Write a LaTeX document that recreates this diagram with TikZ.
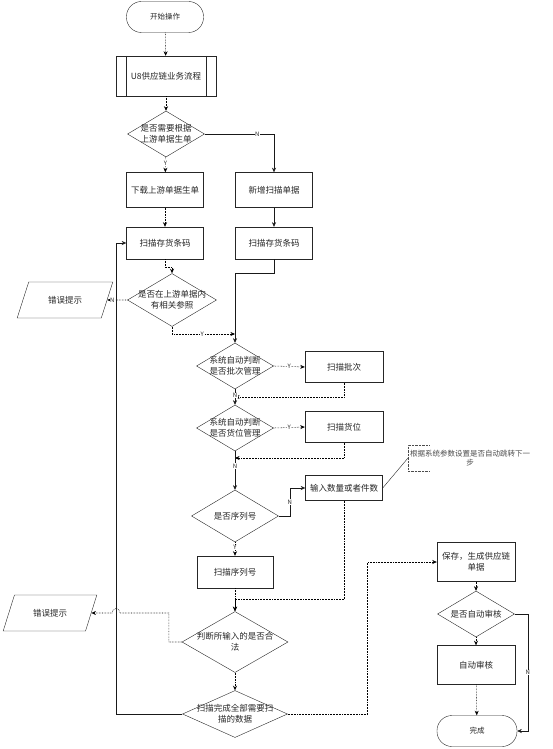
\documentclass[tikz,border=0pt]{standalone}
\usepackage{fontspec}
\setmainfont{Noto Sans CJK SC}
\usetikzlibrary{positioning,arrows.meta,calc,shapes.geometric}

\begin{document}
\begin{tikzpicture}[
  x=1pt, y=-1pt,
  font=\fontsize{8.5}{11}\selectfont,
  >={Stealth[length=1.6mm,width=1.4mm]},
  base/.style={draw=black!85, thin, align=center, inner sep=2pt, text=black!85},
  term/.style={base, rounded corners=15pt, minimum width=77pt, minimum height=31pt,
               font=\fontsize{7.5}{9}\selectfont},
  box/.style={base, minimum width=77pt, minimum height=33pt},
  dec/.style={base, diamond, minimum width=77pt, minimum height=46pt, inner sep=0pt},
  dtxt/.style={align=center, text=black!85, inner sep=0pt},
  io/.style={base, trapezium, trapezium left angle=63, trapezium right angle=117,
             trapezium stretches=true, minimum width=96pt, minimum height=36pt},
  note/.style={align=center, text=black!70, inner sep=2pt, minimum height=25pt,
               font=\fontsize{7.5}{9}\selectfont},
  arr/.style={->, thin, black!90},
  arrd/.style={arr, black, line width=0.55pt, densely dotted},
  lbl/.style={font=\fontsize{6}{6}\selectfont, inner sep=0.5pt, fill=white, text=black!85},
]
\useasboundingbox (0,0) rectangle (553,749);

%% ---------- top: start and first decision ----------
\node[term] (start) at (165,17) {开始操作};
\node[box, minimum width=100pt, minimum height=40pt] (u8) at (166,76) {U8供应链业务流程};
\draw[black!85] ([xshift=10pt]u8.north west) -- ([xshift=10pt]u8.south west);
\draw[black!85] ([xshift=-10pt]u8.north east) -- ([xshift=-10pt]u8.south east);

\node[dec, label={[dtxt]center:是否需要根据\\上游单据生单}] (d1) at (166,134) {};

\node[box, minimum height=35pt] (down) at (165,190) {下载上游单据生单};
\node[box, minimum height=35pt] (add) at (274,190) {新增扫描单据};

\node[box, minimum height=32pt] (scan1) at (165,243) {扫描存货条码};
\node[box, minimum height=32pt] (scan2) at (274,243) {扫描存货条码};

\draw[arrd] (start) -- (u8);
\draw[arrd] (u8) -- (d1);
\draw[arr] (d1.east) -| node[lbl, pos=0.38]{N} (add.north);
\draw[arrd] (d1) -- node[lbl, pos=0.4]{Y} (down);
\draw[arrd] (down) -- (scan1);
\draw[arr] (add) -- (scan2);

%% ---------- reference check ----------
\node[dec, minimum width=89pt, minimum height=53pt,
      label={[dtxt]center:是否在上游单据内\\有相关参照}] (d2) at (172,300) {};
\node[io] (err1) at (65,300) {错误提示};
\coordinate (j1) at (235,334);

\draw[arrd] (scan1.south) -- ++(0,8) -| (d2.north);
\draw[arrd] (d2.west) -- node[lbl, pos=0.75]{N} (err1.east);
\draw[arrd] (d2.south) |- node[lbl, pos=0.74]{Y} (j1);

%% ---------- batch and location ----------
\node[dec, label={[dtxt]center:系统自动判断\\是否批次管理}] (d3) at (235,366) {};
\node[box, minimum width=78pt, minimum height=31pt] (batch) at (344,367) {扫描批次};
\coordinate (j2) at (235,397);

\node[dec, label={[dtxt]center:系统自动判断\\是否货位管理}] (d4) at (235,428) {};
\node[box, minimum width=78pt, minimum height=31pt] (loc) at (344,427) {扫描货位};
\coordinate (j3) at (235,458);

\draw[arr] (scan2.south) -- ++(0,14) -| (d3.north);
\draw[arrd] (d3.east) -- node[lbl]{Y} (batch.west);
\draw[arrd] (batch.south) |- (j2);
\draw[arr] (d3) -- node[lbl, pos=0.4]{N} (d4);
\draw[arrd] (d4.east) -- node[lbl]{Y} (loc.west);
\draw[arrd] (loc.south) |- (j3);

%% ---------- serial number / quantity ----------
\node[dec, minimum width=87pt, minimum height=52pt,
      label={[dtxt]center:是否序列号}] (d5) at (235,516) {};
\node[box, minimum height=25pt] (qty) at (344,488) {输入数量或者件数};
\node[box, minimum width=76pt, minimum height=32pt] (serial) at (235,572) {扫描序列号};

\node[note, anchor=west] (memo) at (408,458) {根据系统参数设置是否自动跳转下一\\步};
\draw[black!70, densely dotted] ($(memo.north west)+(21,0)$) -| (memo.south west) -- ++(21,0);
\draw[black!85] (qty.east) -- (memo.west);

\draw[arr] (d4) -- node[lbl, pos=0.38]{N} (d5);
\draw[arr] (d5.east) -- ++(11,0) |- node[lbl, pos=0.25]{N} (qty.west);
\draw[arrd] (d5) -- node[lbl, pos=0.4]{Y} (serial);

%% ---------- validity and completion ----------
\node[dec, minimum width=106pt, minimum height=61pt,
      label={[dtxt]center:判断所输入的是否合\\法}] (d6) at (235,642) {};
\node[io, minimum width=94pt] (err2) at (50,613) {错误提示};
\node[dec, minimum width=105pt, minimum height=47pt,
      label={[dtxt]center:扫描完成全部需要扫\\描的数据}] (d7) at (235,714) {};

\draw[arrd] (qty.south) -- ++(0,99) -| (d6.north);
\draw[arrd] (serial) -- (d6);
\draw[arrd] (d6.west) -- ++(-13,0) -- ++(0,-29) -- (120,613)
  .. controls (120,607) and (112,607) .. (112,613) -- (err2.east);
\draw[arrd] (d6) -- (d7);
\draw[arr] (d7.west) -- ++(-66,0) |- (scan1.west);

%% ---------- right column: save and audit ----------
\node[box, minimum width=78pt, minimum height=39pt] (save) at (476,562) {保存，生成供应链\\单据};
\node[dec, label={[dtxt]center:是否自动审核}] (d8) at (476,614) {};
\node[box, minimum width=78pt, minimum height=39pt] (auto) at (476,665) {自动审核};
\node[term, minimum width=80pt] (done) at (477,731) {完成};

\draw[arrd] (d7.east) -- ++(80,0) |- (save.west);
\draw[arrd] (save) -- (d8);
\draw[arrd] (d8) -- (auto);
\draw[arrd] (auto) -- (done);
\draw[arr] (d8.east) -- ++(13,0) |- node[lbl, pos=0.25]{N} (done.east);

\end{tikzpicture}
\end{document}
